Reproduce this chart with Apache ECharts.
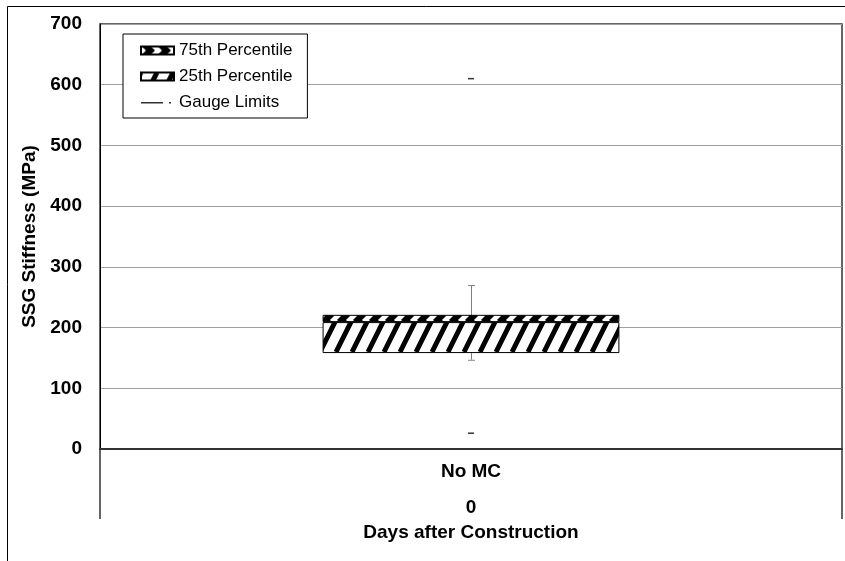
<!DOCTYPE html>
<html><head><meta charset="utf-8">
<script src="https://cdn.jsdelivr.net/npm/echarts@6/dist/echarts.min.js"></script>
<style>html,body{margin:0;padding:0;background:#fff}#c{width:845px;height:561px}</style>
</head><body><div id="c"></div>
<script>
// ---- data ----
const categories = ['No MC'];
const dayLabels = ['0'];
const p25Values = [158];
const medianValues = [209];
const p75Values = [221];
const whiskerLow = [147];
const whiskerHigh = [270];
const gaugeLow = [26];
const gaugeHigh = [610];
const yMin = 0, yMax = 700, yStep = 100;

// ---- patterns (style only) ----
function stripePattern() {
  const c = document.createElement('canvas'); c.width = 16; c.height = 32;
  const g = c.getContext('2d');
  g.fillStyle = '#fff'; g.fillRect(0, 0, 16, 32);
  g.strokeStyle = '#000'; g.lineWidth = 5;
  for (const x of [-16, 0, 16]) { g.beginPath(); g.moveTo(x, 32); g.lineTo(x + 16, 0); g.stroke(); }
  return { image: c, repeat: 'repeat' };
}
function chevronPattern() {
  const c = document.createElement('canvas'); c.width = 16; c.height = 8;
  const g = c.getContext('2d');
  g.fillStyle = '#fff'; g.fillRect(0, 0, 16, 8);
  g.fillStyle = '#000';
  g.beginPath(); g.moveTo(1, 0); g.lineTo(10, 0); g.lineTo(14, 4); g.lineTo(10, 8); g.lineTo(1, 8); g.lineTo(5, 4); g.closePath(); g.fill();
  return { image: c, repeat: 'repeat' };
}

const FONT = 'Liberation Sans, Arial, sans-serif';
const AX = 19;
const chart = echarts.init(document.getElementById('c'), null, { renderer: 'canvas' });

const baseData = p25Values.slice();
const lowerBox = medianValues.map((m, i) => m - p25Values[i]);
const upperBox = p75Values.map((q, i) => q - medianValues[i]);
const errData = categories.map((c, i) => [i, whiskerLow[i], whiskerHigh[i]]);
const gaugeData = [];
categories.forEach((c, i) => { gaugeData.push([i, gaugeLow[i]]); gaugeData.push([i, gaugeHigh[i]]); });

chart.setOption({
  animation: false,
  backgroundColor: '#fff',
  graphic: [{ type: 'rect', shape: { x: 7.5, y: 6.5, width: 900, height: 600 }, style: { fill: 'none', stroke: '#000', lineWidth: 1 }, silent: true }],
  grid: { left: 100, right: 3, top: 24, bottom: 112, show: true, borderColor: '#333', borderWidth: 1.5, backgroundColor: 'transparent' },
  legend: {
    left: 123, top: 34, orient: 'vertical',
    backgroundColor: '#fff', borderColor: '#000', borderWidth: 1,
    padding: [8, 15, 7, 17], itemGap: 9, itemWidth: 33, itemHeight: 8,
    textStyle: { fontFamily: FONT, fontSize: 17, color: '#000' },
    data: [
      { name: '75th Percentile', icon: 'rect' },
      { name: '25th Percentile', icon: 'rect' },
      { name: 'Gauge Limits', icon: 'path://M0,0 M33,8 M0,3.5h22v1.5h-22z M28,3.5h2v1.5h-2z', itemStyle: { color: '#000' } }
    ]
  },
  xAxis: [{
    type: 'category', data: categories, position: 'bottom',
    axisLine: { lineStyle: { color: '#333', width: 2 } },
    axisTick: { show: true, alignWithLabel: false, length: 70, lineStyle: { color: '#333', width: 1.5 } },
    axisLabel: { margin: 13, fontFamily: FONT, fontSize: AX, fontWeight: 'bold', color: '#000' },
    splitLine: { show: false }
  }, {
    type: 'category', data: dayLabels, position: 'bottom', gridIndex: 0,
    axisLine: { show: false }, axisTick: { show: false },
    axisLabel: { margin: 49, fontFamily: FONT, fontSize: AX, fontWeight: 'bold', color: '#000' },
    name: 'Days after Construction', nameLocation: 'middle', nameGap: 74,
    nameTextStyle: { fontFamily: FONT, fontSize: AX, fontWeight: 'bold', color: '#000' }
  }],
  yAxis: {
    type: 'value', min: yMin, max: yMax, interval: yStep,
    name: 'SSG Stiffness (MPa)', nameLocation: 'middle', nameGap: 53,
    nameTextStyle: { fontFamily: FONT, fontSize: AX, fontWeight: 'bold', color: '#000' },
    axisLine: { show: true, lineStyle: { color: '#000', width: 1 } },
    axisTick: { show: false },
    axisLabel: { margin: 18, fontFamily: FONT, fontSize: AX, fontWeight: 'bold', color: '#000' },
    splitLine: { show: true, lineStyle: { color: '#a0a0a0', width: 1 } }
  },
  series: [
    {
      type: 'custom', name: 'errorbar', z: 1, silent: true,
      data: errData,
      encode: { x: 0, y: [1, 2] },
      renderItem: function (params, api) {
        const x = api.value(0);
        const lo = api.coord([x, api.value(1)]);
        const hi = api.coord([x, api.value(2)]);
        const cap = 3;
        const st = { stroke: '#808080', lineWidth: 1 };
        return { type: 'group', children: [
          { type: 'line', shape: { x1: lo[0] + 0.5, y1: lo[1], x2: hi[0] + 0.5, y2: hi[1] }, style: st },
          { type: 'line', shape: { x1: lo[0] - cap, y1: lo[1] + 0.5, x2: lo[0] + cap + 1, y2: lo[1] + 0.5 }, style: st },
          { type: 'line', shape: { x1: hi[0] - cap, y1: hi[1] + 0.5, x2: hi[0] + cap + 1, y2: hi[1] + 0.5 }, style: st }
        ] };
      }
    },
    { type: 'bar', name: 'base', stack: 'box', barWidth: '40%', z: 2, silent: true, data: baseData, itemStyle: { color: 'transparent' } },
    { type: 'bar', name: '25th Percentile', stack: 'box', z: 2, data: lowerBox, itemStyle: { color: stripePattern(), borderColor: '#000', borderWidth: 1 } },
    { type: 'bar', name: '75th Percentile', stack: 'box', z: 2, data: upperBox, itemStyle: { color: chevronPattern(), borderColor: '#000', borderWidth: 1 } },
    { type: 'scatter', name: 'Gauge Limits', z: 3, data: gaugeData, symbol: 'rect', symbolSize: [6, 1.5], itemStyle: { color: '#000' } }
  ]
});
</script>
</body></html>
